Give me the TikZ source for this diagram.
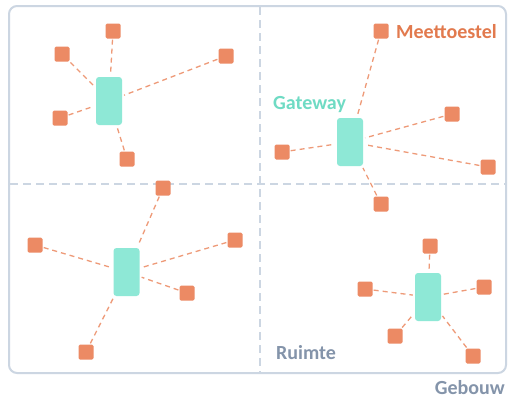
\documentclass[tikz,border=0pt]{standalone}
\usepackage{fontspec}
\setmainfont{Carlito}
\begin{document}
\begin{tikzpicture}[x=1pt,y=-1pt,
  dev/.style={fill=devc, draw=none, minimum size=15pt, inner sep=0pt, rounded corners=1.5pt},
  gw/.style={fill=gwc, draw=none, minimum width=26pt, minimum height=48pt, inner sep=0pt, rounded corners=3pt},
  link/.style={draw=linkc, line width=1.3pt, dash pattern=on 5pt off 4pt},
  divider/.style={draw=framec, line width=1.8pt, dash pattern=on 8pt off 5pt},
  lbl/.style={font=\bfseries\fontsize{20}{24}\selectfont, inner sep=0pt}
]
\definecolor{devc}{HTML}{EC8A64}
\definecolor{gwc}{HTML}{8EE8D6}
\definecolor{linkc}{HTML}{EE9A78}
\definecolor{framec}{HTML}{CCD6E2}
\definecolor{txtorange}{HTML}{E27A4E}
\definecolor{txtteal}{HTML}{6FDBC4}
\definecolor{txtgrey}{HTML}{8494AA}
\useasboundingbox (0,0) rectangle (508,399);
\fill[white] (0,0) rectangle (508,399);
% frame
\draw[framec, line width=2pt, rounded corners=8pt] (9,6) rectangle (506,373);
\coordinate (vt) at (260,7); \coordinate (vb) at (260,372);
\coordinate (hl) at (10,184); \coordinate (hr) at (505,184);
\draw[divider] (vt) -- (vb);
\draw[divider] (hl) -- (hr);
% gateways
\node[gw] (g1) at (109,101) {};
\node[gw] (g2) at (350,142) {};
\node[gw] (g3) at (126.5,272) {};
\node[gw] (g4) at (428,297) {};
% devices TL
\node[dev] (a1) at (113,31) {};
\node[dev] (a2) at (62,54) {};
\node[dev] (a3) at (226,56) {};
\node[dev] (a4) at (60,118) {};
\node[dev] (a5) at (127,159) {};
% devices TR
\node[dev] (b1) at (381,31) {};
\node[dev] (b2) at (452,114) {};
\node[dev] (b3) at (488,167) {};
\node[dev] (b4) at (282,152) {};
\node[dev] (b5) at (381,204) {};
% devices BL
\node[dev] (c1) at (163,188) {};
\node[dev] (c2) at (35,245) {};
\node[dev] (c3) at (235,240) {};
\node[dev] (c4) at (187,293) {};
\node[dev] (c5) at (86,352) {};
% devices BR
\node[dev] (d1) at (430,246) {};
\node[dev] (d2) at (365,289) {};
\node[dev] (d3) at (484,287) {};
\node[dev] (d4) at (395,336) {};
\node[dev] (d5) at (473,356) {};
% links
\foreach \n in {a1,a2,a3,a4,a5} \draw[link, shorten <=1pt, shorten >=2pt] (\n) -- (g1);
\foreach \n in {b1,b2,b3,b4,b5} \draw[link, shorten <=1pt, shorten >=2pt] (\n) -- (g2);
\foreach \n in {c1,c2,c3,c4,c5} \draw[link, shorten <=1pt, shorten >=2pt] (\n) -- (g3);
\foreach \n in {d1,d2,d3,d4,d5} \draw[link, shorten <=1pt, shorten >=2pt] (\n) -- (g4);
% labels
\node[lbl, text=txtorange, anchor=west] (tm) at (396,32) {Meettoestel};
\node[lbl, text=txtteal, anchor=west] (tg) at (273,105) {Gateway};
\node[lbl, text=txtgrey, anchor=west] (tr) at (276,353) {Ruimte};
\node[lbl, text=txtgrey, anchor=east] (tb) at (505,388) {Gebouw};
\end{tikzpicture}
\end{document}
